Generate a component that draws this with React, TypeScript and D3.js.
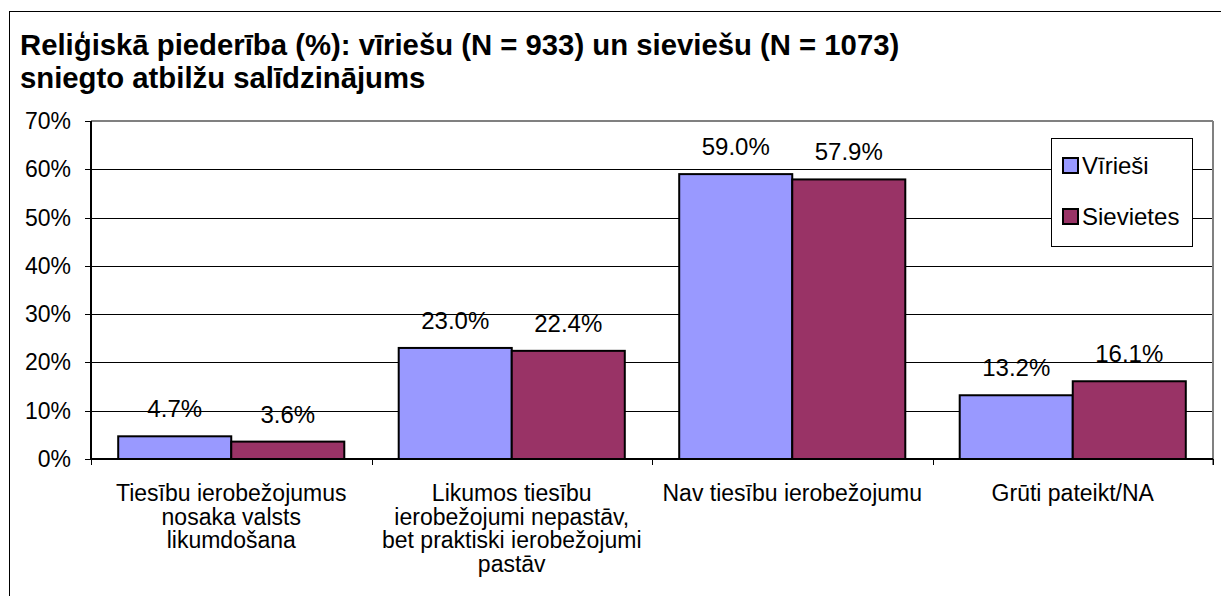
import React from "react";
import * as d3 from "d3";

const categories: string[][] = [
  ["Tiesību ierobežojumus", "nosaka valsts", "likumdošana"],
  ["Likumos tiesību", "ierobežojumi nepastāv,", "bet praktiski ierobežojumi", "pastāv"],
  ["Nav tiesību ierobežojumu"],
  ["Grūti pateikt/NA"],
];
const seriesNames = ["Vīrieši", "Sievietes"];
const men = [4.7, 23.0, 59.0, 13.2];
const women = [3.6, 22.4, 57.9, 16.1];
const yTicks = [0, 10, 20, 30, 40, 50, 60, 70];
const colors = ["#9999FF", "#993366"];
const titleLines = [
  "Reliģiskā piederība (%): vīriešu (N = 933) un sieviešu (N = 1073)",
  "sniegto atbilžu salīdzinājums",
];

export default function App() {
  const W = 1221, H = 596;
  const left = 91, right = 1213, top = 121, bottom = 459;
  const font = "Arial, 'Liberation Sans', sans-serif";
  const y = d3.scaleLinear().domain([0, 70]).range([bottom, top]);
  const x0 = d3.scaleBand<number>().domain(d3.range(categories.length)).range([left, right]).paddingInner(0).paddingOuter(0);
  const bw = x0.bandwidth();
  const groupW = bw * 0.806;
  const x1 = d3.scaleBand<number>().domain([0, 1]).range([0, groupW]);
  const series = [men, women];

  return (
    <svg width={W} height={H} style={{ position: "absolute", left: 0, top: 0 }} fontFamily={font}>
      <rect x={0} y={0} width={W} height={H} fill="#fff" />
      <rect x={9.5} y={11.5} width={1240} height={620} fill="none" stroke="#000" strokeWidth={1} />
      {titleLines.map((t, i) => (
        <text key={i} x={20} y={55 + i * 33} fontSize={29.3} fontWeight="bold" fill="#000">{t}</text>
      ))}
      {/* gridlines */}
      {yTicks.filter((t) => t > 0 && t < 70).map((t) => (
        <line key={t} x1={left} x2={right} y1={Math.round(y(t)) + 0.5} y2={Math.round(y(t)) + 0.5} stroke="#000" strokeWidth={1} />
      ))}
      {/* plot border top/right gray */}
      <line x1={left} x2={right} y1={top} y2={top} stroke="#808080" strokeWidth={2} />
      <line x1={right} x2={right} y1={top} y2={bottom + 6} stroke="#808080" strokeWidth={2} />
      {/* y axis */}
      <line x1={left} x2={left} y1={top} y2={bottom} stroke="#000" strokeWidth={2} />
      {yTicks.map((t) => (
        <g key={t}>
          <line x1={left - 6} x2={left} y1={Math.round(y(t)) + 0.5} y2={Math.round(y(t)) + 0.5} stroke="#000" />
          <text x={71} y={y(t) + 8} fontSize={23} textAnchor="end">{t}%</text>
        </g>
      ))}
      {/* bars */}
      {series.map((vals, s) =>
        vals.map((v, i) => {
          const bx = (x0(i) as number) + (bw - groupW) / 2 + (x1(s) as number);
          return (
            <g key={`${s}-${i}`}>
              <rect x={bx} y={y(v)} width={x1.bandwidth()} height={bottom - y(v)} fill={colors[s]} stroke="#000" strokeWidth={2} />
              <text x={bx + x1.bandwidth() / 2} y={y(v) - 19} fontSize={24} textAnchor="middle">{v.toFixed(1)}%</text>
            </g>
          );
        })
      )}
      {/* x axis */}
      <line x1={left} x2={right} y1={bottom} y2={bottom} stroke="#000" strokeWidth={2} />
      {d3.range(categories.length + 1).map((i) => (
        <line key={i} x1={Math.round(left + i * bw) + 0.5} x2={Math.round(left + i * bw) + 0.5} y1={bottom} y2={bottom + 6} stroke="#000" />
      ))}
      {categories.map((lines, i) => (
        <text key={i} fontSize={23} textAnchor="middle">
          {lines.map((l, j) => (
            <tspan key={j} x={(x0(i) as number) + bw / 2} y={501 + j * 23.5}>{l}</tspan>
          ))}
        </text>
      ))}
      {/* legend */}
      <rect x={1051.5} y={138.5} width={141} height={108} fill="#fff" stroke="#000" strokeWidth={1} />
      {seriesNames.map((n, i) => (
        <g key={n}>
          <rect x={1063} y={158 + i * 51} width={15} height={15} fill={colors[i]} stroke="#000" strokeWidth={2} />
          <text x={1082} y={174 + i * 51} fontSize={24}>{n}</text>
        </g>
      ))}
    </svg>
  );
}
